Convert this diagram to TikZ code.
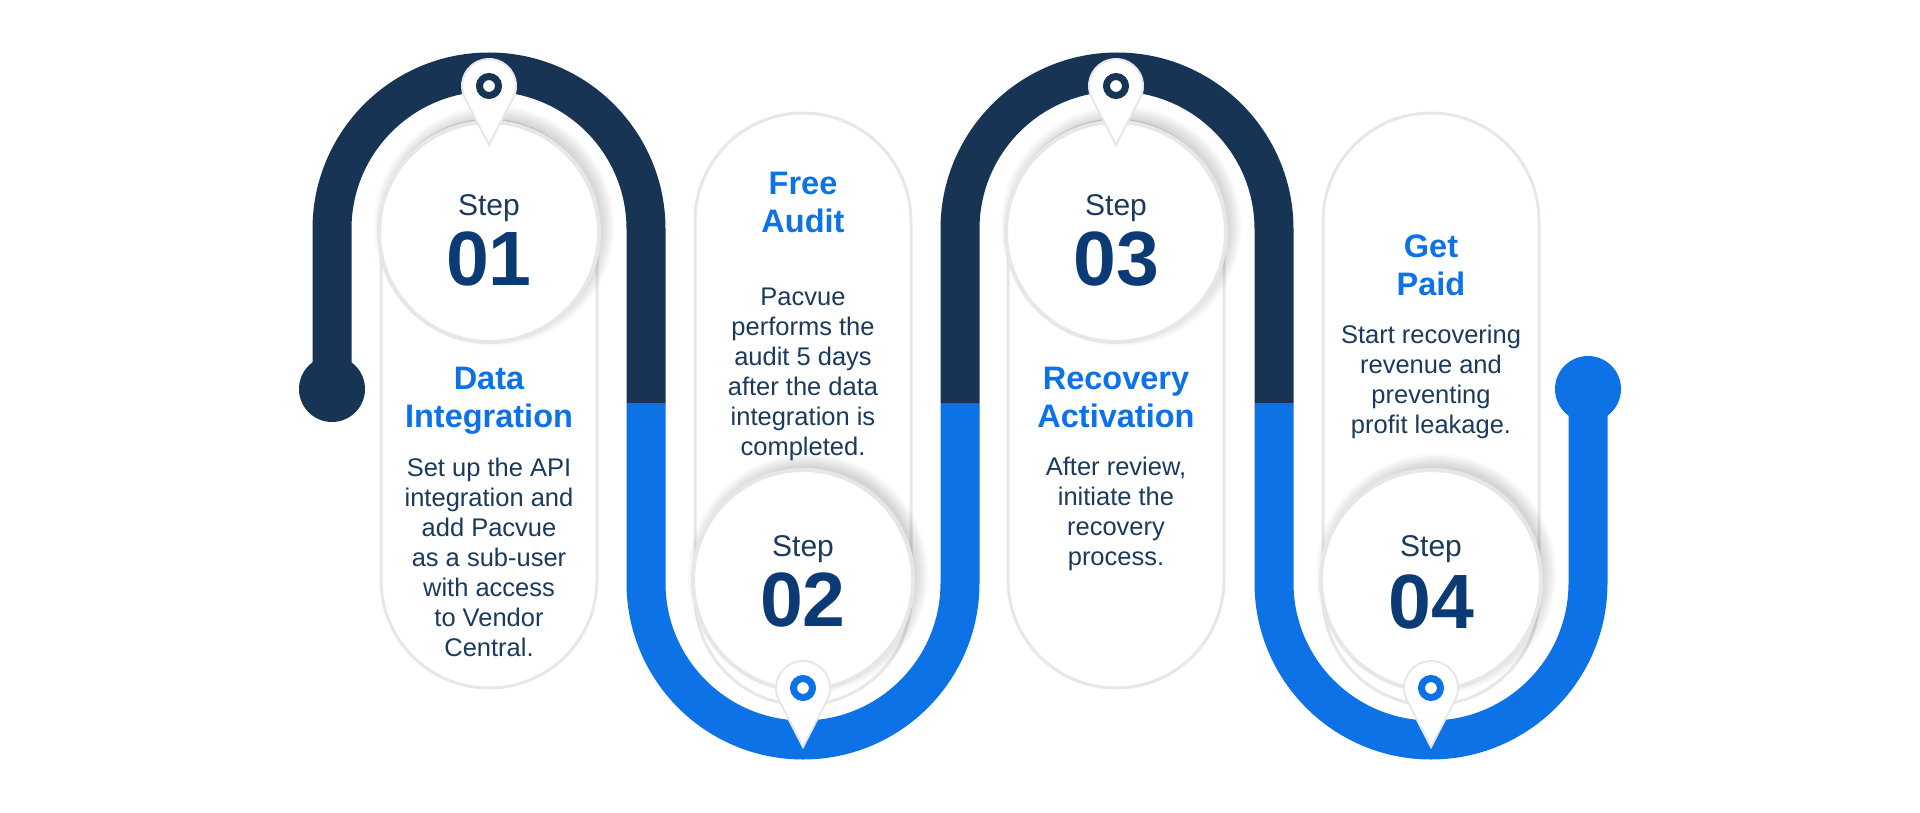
\documentclass[tikz,border=0pt]{standalone}
\usepackage{fontspec}
\setmainfont{Liberation Sans}
\definecolor{navy}{HTML}{173454}
\definecolor{brand}{HTML}{0D72E6}
\definecolor{txt}{HTML}{1B3A5C}
\definecolor{num}{HTML}{0B3A75}
\definecolor{edge}{HTML}{E6E7EB}
\begin{document}
\begin{tikzpicture}[x=1pt,y=-1pt,
  band/.style={line width=39pt,line cap=butt},
  card/.style={draw=edge,line width=3pt,fill=white,rounded corners=108pt},
  stepc/.style={circle,draw=edge,line width=4pt,fill=white,minimum size=220pt,inner sep=0pt},
  halo/.style={fill=black,opacity=0.022},
  head/.style={font=\bfseries\fontsize{32.5}{38}\selectfont,text=brand,align=center,anchor=north},
  body/.style={font=\fontsize{25.5}{30}\selectfont,text=txt,align=center,anchor=north},
  stepw/.style={font=\fontsize{30}{30}\selectfont,text=txt},
  stepn/.style={font=\bfseries\fontsize{77}{80}\selectfont,text=num}]
\useasboundingbox (0,0) rectangle (1920,813);
% serpentine
\draw[band,navy] (332,389) -- (332,229) arc[start angle=180,end angle=360,radius=157] -- (646,403);
\draw[band,brand] (646,403) -- (646,583) arc[start angle=180,end angle=0,radius=157] -- (960,403);
\draw[band,navy] (960,403) -- (960,229) arc[start angle=180,end angle=360,radius=157] -- (1274,403);
\draw[band,brand] (1274,403) -- (1274,583) arc[start angle=180,end angle=0,radius=157] -- (1588,389);
\fill[navy] (332,389) circle[radius=33];
\fill[brand] (1588,389) circle[radius=33];
% cards
\draw[card] (381,120) rectangle (597,688);
\draw[card] (695,113) rectangle (911,705);
\draw[card] (1008,120) rectangle (1224,688);
\draw[card] (1323,113) rectangle (1539,705);
% circle halos
\foreach \cx/\cy in {489/232,803/580,1116/232,1431/580}{
  \foreach \i in {1,...,7}{
    \fill[halo] (\cx+5,\cy-6) circle[radius=106+2*\i];
  }
}
% circles
\node[stepc] (c1) at (489,232) {};
\node[stepc] (c2) at (803,580) {};
\node[stepc] (c3) at (1116,232) {};
\node[stepc] (c4) at (1431,580) {};
\node[stepw] (s1) at (489,208) {Step};
\node[stepn] (n1) at (489,259) {01};
\node[stepw] (s2) at (803,549) {Step};
\node[stepn] (n2) at (803,600) {02};
\node[stepw] (s3) at (1116,208) {Step};
\node[stepn] (n3) at (1116,259) {03};
\node[stepw] (s4) at (1431,549) {Step};
\node[stepn] (n4) at (1431,602) {04};
% texts
\node[head] (h1) at (489,364) {Data\\Integration};
\node[body] (b1) at (489,454) {Set up the API\\integration and\\add Pacvue\\as a sub-user\\with access\\to Vendor\\Central.};
\node[head] (h2) at (803,169) {Free\\Audit};
\node[body] (b2) at (803,284) {Pacvue\\performs the\\audit 5 days\\after the data\\integration is\\completed.};
\node[head] (h3) at (1116,364) {Recovery\\Activation};
\node[body] (b3) at (1116,453) {After review,\\initiate the\\recovery\\process.};
\node[head] (h4) at (1431,231) {Get\\Paid};
\node[body] (b4) at (1431,321) {Start recovering\\revenue and\\preventing\\profit leakage.};
% pins
\foreach \cx/\cy/\col/\nm in {489/86/navy/p1,1116/86/navy/p3,803/688/brand/p2,1431/688/brand/p4}{
  \coordinate (\nm) at (\cx,\cy);
  \filldraw[fill=white,draw=edge,line width=2pt]
    (\cx,\cy+59) -- ([shift={(153:27)}]\nm) arc[start angle=153,end angle=387,radius=27] -- cycle;
  \draw[\col,line width=7pt] (\nm) circle[radius=9.5];
}
\end{tikzpicture}
\end{document}
